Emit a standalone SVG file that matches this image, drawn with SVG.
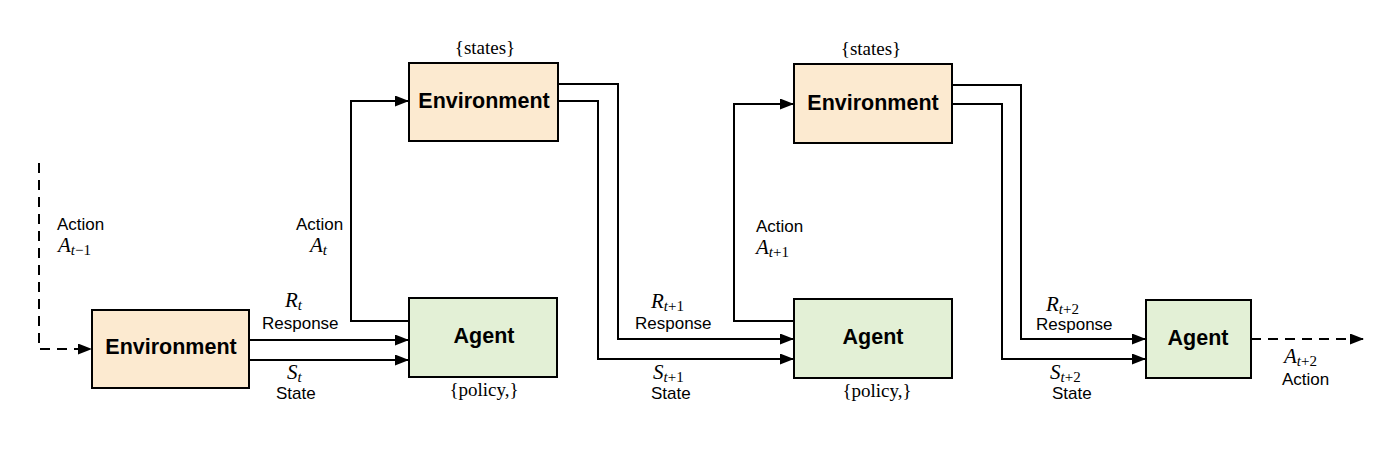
<svg xmlns="http://www.w3.org/2000/svg" width="1400" height="451" viewBox="0 0 1400 451">
<defs>
<marker id="ah" markerUnits="userSpaceOnUse" markerWidth="14" markerHeight="12" refX="13" refY="5.5" orient="auto">
<path d="M0,0 L14,5.5 L0,11 Z" fill="#000"/>
</marker>
<style>
.env{fill:#FCEAD0;stroke:#000;stroke-width:2}
.agt{fill:#E3F0D6;stroke:#000;stroke-width:2}
.title{font-family:"Liberation Sans",Arial,sans-serif;font-weight:bold;font-size:21.5px;fill:#000;text-anchor:middle}
.lbl{font-family:"Liberation Sans",Arial,sans-serif;font-size:17px;fill:#000}
.math{font-family:"Liberation Serif","Times New Roman",serif;font-size:21px;font-style:italic;fill:#000}
.sub{font-size:15px}
.up{font-style:normal}
.set{font-family:"Liberation Serif","Times New Roman",serif;font-size:19px;fill:#000;text-anchor:middle}
.c{fill:none;stroke:#000;stroke-width:2}
.d{stroke-dasharray:10 7}
</style>
</defs>
<rect width="1400" height="451" fill="#fff"/>

<g id="connectors">
<path class="c d" d="M39,163 V349 H91" marker-end="url(#ah)"/>
<path class="c" d="M249,340 H408" marker-end="url(#ah)"/>
<path class="c" d="M249,360 H408" marker-end="url(#ah)"/>
<path class="c" d="M409,321 H351 V101 H408" marker-end="url(#ah)"/>
<path class="c" d="M558,84 H618 V339 H793" marker-end="url(#ah)"/>
<path class="c" d="M558,101 H598 V359 H793" marker-end="url(#ah)"/>
<path class="c" d="M794,321 H734 V104 H793" marker-end="url(#ah)"/>
<path class="c" d="M952,85 H1021 V339 H1145" marker-end="url(#ah)"/>
<path class="c" d="M952,104 H1002 V359 H1145" marker-end="url(#ah)"/>
<path class="c d" d="M1251,339 H1363" marker-end="url(#ah)"/>
</g>

<g id="env1">
<rect class="env" x="92" y="310" width="157" height="78"/>
<text class="title" x="171" y="354">Environment</text>
</g>
<g id="agent1">
<rect class="agt" x="409" y="298" width="148" height="79"/>
<text class="title" x="484" y="343">Agent</text>
<text class="set" x="484" y="396">{policy,}</text>
</g>
<g id="env2">
<rect class="env" x="409" y="63" width="149" height="78"/>
<text class="title" x="484" y="108">Environment</text>
<text class="set" x="485" y="54">{states}</text>
</g>
<g id="agent2">
<rect class="agt" x="794" y="299" width="158" height="79"/>
<text class="title" x="873" y="344">Agent</text>
<text class="set" x="877" y="397">{policy,}</text>
</g>
<g id="env3">
<rect class="env" x="794" y="64" width="158" height="79"/>
<text class="title" x="873" y="110">Environment</text>
<text class="set" x="871" y="55">{states}</text>
</g>
<g id="agent3">
<rect class="agt" x="1146" y="300" width="105" height="78"/>
<text class="title" x="1198" y="345">Agent</text>
</g>

<g id="labels">
<text class="lbl" x="57" y="230">Action</text>
<text class="math" x="58" y="252">A<tspan class="sub" dy="3">t</tspan><tspan class="sub up">−1</tspan></text>

<text class="lbl" x="296" y="230">Action</text>
<text class="math" x="310" y="252">A<tspan class="sub" dy="3">t</tspan></text>

<text class="math" x="285" y="307">R<tspan class="sub" dy="3">t</tspan></text>
<text class="lbl" x="262" y="329">Response</text>
<text class="math" x="287" y="379">S<tspan class="sub" dy="3">t</tspan></text>
<text class="lbl" x="276" y="399">State</text>

<text class="lbl" x="756" y="232">Action</text>
<text class="math" x="756" y="254">A<tspan class="sub" dy="3">t</tspan><tspan class="sub up">+1</tspan></text>

<text class="math" x="651" y="308">R<tspan class="sub" dy="3">t</tspan><tspan class="sub up">+1</tspan></text>
<text class="lbl" x="635" y="329">Response</text>
<text class="math" x="653" y="379">S<tspan class="sub" dy="3">t</tspan><tspan class="sub up">+1</tspan></text>
<text class="lbl" x="651" y="399">State</text>

<text class="math" x="1046" y="311">R<tspan class="sub" dy="3">t</tspan><tspan class="sub up">+2</tspan></text>
<text class="lbl" x="1036" y="330">Response</text>
<text class="math" x="1050" y="379">S<tspan class="sub" dy="3">t</tspan><tspan class="sub up">+2</tspan></text>
<text class="lbl" x="1052" y="399">State</text>

<text class="math" x="1284" y="363">A<tspan class="sub" dy="3">t</tspan><tspan class="sub up">+2</tspan></text>
<text class="lbl" x="1282" y="385">Action</text>
</g>
</svg>
